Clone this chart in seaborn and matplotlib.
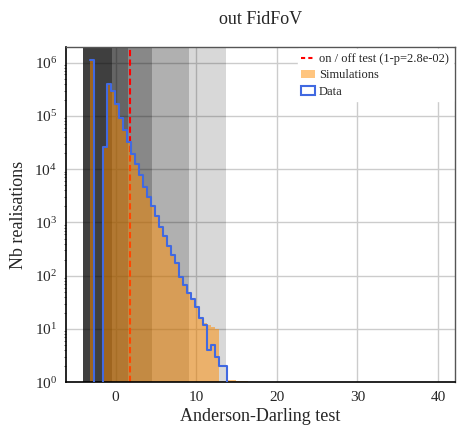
import numpy as np
import pandas as pd
import matplotlib
matplotlib.use("Agg")
import matplotlib.pyplot as plt
import seaborn as sns
from matplotlib.lines import Line2D
from matplotlib.patches import Patch

# ---------------- data ----------------
bin_start = -3.12
bin_width = 0.5
data_counts = [1.12e6, 0, 0, 2.6e4, 3.9e5, 3.0e5, 1.7e5, 9.0e4, 5.5e4, 3.2e4,
               1.9e4, 1.26e4, 7.8e3, 4.7e3, 3.0e3, 2.0e3, 1.3e3, 830, 560,
               355, 245, 170, 95, 68, 47, 36, 26, 16, 12, 4, 5, 3, 2, 2,
               0, 0, 0, 0, 0, 0]
sim_counts = [1.12e6, 0, 0, 2.7e4, 4.0e5, 3.1e5, 1.75e5, 9.3e4, 5.7e4, 3.3e4,
              2.0e4, 1.3e4, 8.1e3, 4.9e3, 3.1e3, 2.1e3, 1.35e3, 870, 585,
              370, 255, 178, 100, 71, 49, 38, 27, 17, 13, 12, 11, 10, 0.9, 0.8,
              1.12, 1.1, 1.08, 1.06, 1.05, 0]
test_value = 1.83
test_label = "on / off test (1-p=2.8e-02)"
span_start = -4.1
span_levels = [13.7, 9.1, 4.49, 1.49, -0.45]
span_alphas = [0.153, 0.185, 0.227, 0.25, 0.37]
x_ticks = [0, 10, 20, 30, 40]
title = "out FidFoV"
xlabel = "Anderson-Darling test"
ylabel = "Nb realisations"

n = len(data_counts)
edges = bin_start + bin_width * np.arange(n + 1)
centers = 0.5 * (edges[:-1] + edges[1:])
df = pd.DataFrame({"x": centers, "data": data_counts, "sim": sim_counts})
brange = (float(edges[0]), float(edges[-1]))

# ---------------- style ----------------
sns.set_style("white")
plt.rcParams["font.family"] = ["Liberation Serif", "DejaVu Serif"]
plt.rcParams["mathtext.fontset"] = "stix"

fig = plt.figure(figsize=(4.57, 4.32), dpi=100)
ax = fig.add_axes([66 / 457, 1 - 382.3 / 432, (455 - 66) / 457, (382.3 - 46.7) / 432])

ax.set_axisbelow(True)
ax.grid(True, which="major", color="#cccccc", linewidth=1.0)

for lvl, a in zip(span_levels, span_alphas):
    ax.axvspan(span_start, lvl, color="k", alpha=a, linewidth=0, zorder=0.8)

ax.axvline(test_value, color="red", linestyle=(0, (3, 1.6)), linewidth=1.5, zorder=1)

sns.histplot(data=df, x="x", weights="sim", binwidth=bin_width, binrange=brange,
             element="bars", fill=True, color="darkorange", alpha=0.5,
             linewidth=0, ax=ax, zorder=2)
sns.histplot(data=df, x="x", weights="data", binwidth=bin_width, binrange=brange,
             element="step", fill=False, color="royalblue", linewidth=1.5,
             ax=ax, zorder=3)

ax.set_yscale("log")
ax.set_xlim(-6.15, 42.1)
ax.set_ylim(1, 10 ** 6.3)
ax.set_xticks(x_ticks)
ax.set_title(title, fontsize=13, pad=16)
ax.set_xlabel(xlabel, fontsize=13, labelpad=3)
ax.set_ylabel(ylabel, fontsize=13, labelpad=5)
ax.tick_params(axis="both", which="major", labelsize=11, direction="out", length=3, width=0.8)
ax.tick_params(axis="y", which="minor", direction="out", length=1.5, width=0.5, left=True)
ax.tick_params(axis="x", which="minor", bottom=False)

for s in ["left", "bottom"]:
    ax.spines[s].set_color("black")
    ax.spines[s].set_linewidth(1.2)
for s in ["top", "right"]:
    ax.spines[s].set_color("#555555")
    ax.spines[s].set_linewidth(1.0)

handles = [
    Line2D([0], [0], color="red", linestyle=(0, (2, 1.5)), linewidth=1.5),
    Patch(facecolor="darkorange", alpha=0.5, edgecolor="none"),
    Patch(facecolor="none", edgecolor="royalblue", linewidth=1.5),
]
leg = ax.legend(handles, [test_label, "Simulations", "Data"], loc="upper right",
                fontsize=9, frameon=True, framealpha=1, facecolor="white",
                edgecolor="white", fancybox=False, handlelength=1.1,
                handletextpad=0.3, labelspacing=0.35, borderpad=0.3,
                borderaxespad=0.2)
leg.set_zorder(5)

fig.savefig("out.png", dpi=100)
